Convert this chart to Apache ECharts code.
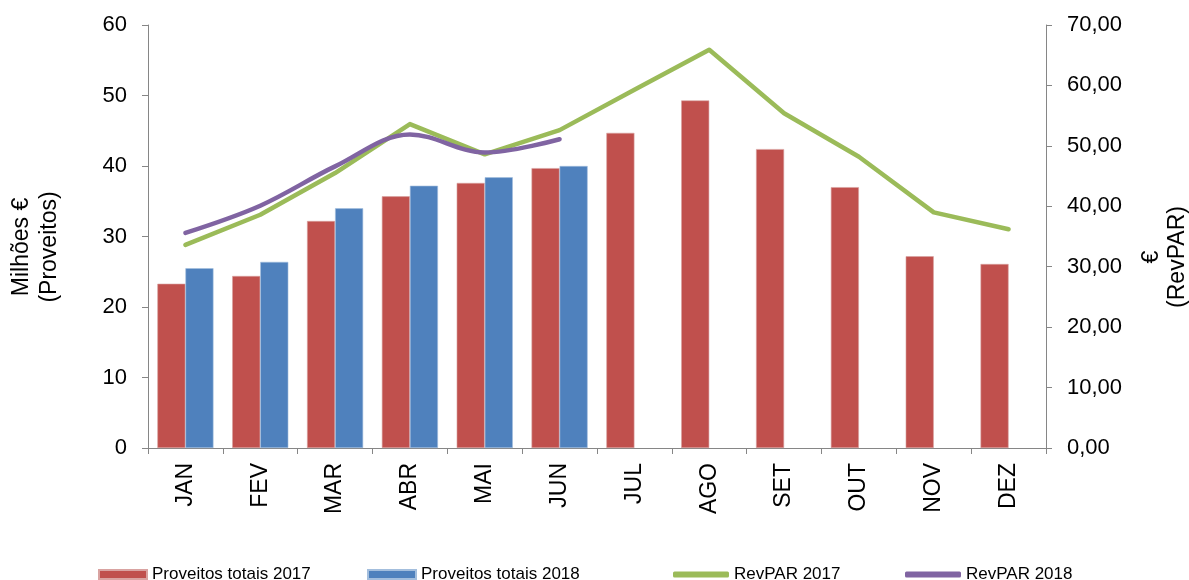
<!DOCTYPE html>
<html>
<head>
<meta charset="utf-8">
<script src="https://cdn.jsdelivr.net/npm/echarts@6/dist/echarts.min.js"></script>
<style>
html,body{margin:0;padding:0;background:#fff;}
#chart{width:1189px;height:580px;}
</style>
</head>
<body>
<div id="chart"></div>
<script>
const categories = ['JAN','FEV','MAR','ABR','MAI','JUN','JUL','AGO','SET','OUT','NOV','DEZ'];
const proveitos2017 = [23.3, 24.4, 32.2, 35.7, 37.6, 39.7, 44.7, 49.3, 42.4, 37.0, 27.2, 26.1];
const proveitos2018 = [25.5, 26.4, 34.0, 37.2, 38.4, 40.0, null, null, null, null, null, null];
const revpar2017 = [33.6, 38.6, 45.5, 53.6, 48.6, 52.6, 59.3, 65.9, 55.4, 48.2, 39.0, 36.2];
const revpar2018 = [35.6, 40.1, 46.6, 51.9, 48.9, 51.1, null, null, null, null, null, null];
const leftTicks = {min: 0, max: 60, interval: 10};
const rightTicks = {min: 0, max: 70, interval: 10};

const FONT = '"Liberation Sans", Arial, sans-serif';
const AXIS_COLOR = '#868686';
const chart = echarts.init(document.getElementById('chart'), null, {renderer: 'canvas'});

function legendFor(name, left, isLine) {
  return {
    data: [name],
    left: left,
    top: 566,
    itemWidth: isLine ? 56 : 48,
    itemHeight: isLine ? 6 : 9,
    icon: isLine ? 'roundRect' : 'rect',
    itemGap: 0,
    padding: 0,
    textStyle: {fontFamily: FONT, fontSize: 17, color: '#000', padding: [0, 0, 0, 0]}
  };
}

const option = {
  animation: false,
  backgroundColor: '#fff',
  textStyle: {fontFamily: FONT},
  grid: {left: 148, right: 143, top: 25, bottom: 132, containLabel: false},
  legend: [
    legendFor('Proveitos totais 2017', 98, false),
    legendFor('Proveitos totais 2018', 367, false),
    legendFor('RevPAR 2017', 673, true),
    legendFor('RevPAR 2018', 905, true)
  ],
  xAxis: {
    type: 'category',
    data: categories,
    boundaryGap: true,
    axisLine: {lineStyle: {color: AXIS_COLOR, width: 1}},
    axisTick: {show: true, length: 6, lineStyle: {color: AXIS_COLOR}},
    axisLabel: {rotate: 90, margin: 15, fontSize: 23, color: '#000', fontFamily: FONT, interval: 0}
  },
  yAxis: [
    {
      type: 'value',
      min: leftTicks.min, max: leftTicks.max, interval: leftTicks.interval,
      position: 'left',
      splitLine: {show: false},
      axisLine: {show: true, lineStyle: {color: AXIS_COLOR, width: 1}},
      axisTick: {show: true, length: 6, lineStyle: {color: AXIS_COLOR}},
      axisLabel: {margin: 21, fontSize: 22, color: '#000', fontFamily: FONT}
    },
    {
      type: 'value',
      min: rightTicks.min, max: rightTicks.max, interval: rightTicks.interval,
      position: 'right',
      splitLine: {show: false},
      axisLine: {show: true, lineStyle: {color: AXIS_COLOR, width: 1}},
      axisTick: {show: true, length: 6, lineStyle: {color: AXIS_COLOR}},
      axisLabel: {margin: 21, fontSize: 22, color: '#000', fontFamily: FONT,
        formatter: v => v.toFixed(2).replace('.', ',')}
    }
  ],
  graphic: [
    {
      type: 'text', x: 36, y: 247, rotation: Math.PI / 2,
      style: {text: 'Milhões €\n(Proveitos)', fontSize: 23, fontFamily: FONT, fill: '#000',
        align: 'center', verticalAlign: 'middle', lineHeight: 28}
    },
    {
      type: 'text', x: 1165, y: 257, rotation: Math.PI / 2,
      style: {text: '€\n(RevPAR)', fontSize: 23, fontFamily: FONT, fill: '#000',
        align: 'center', verticalAlign: 'middle', lineHeight: 26}
    }
  ],
  series: [
    {
      name: 'Proveitos totais 2017', type: 'bar', yAxisIndex: 0,
      data: proveitos2017, barGap: '0%', barCategoryGap: '25%',
      itemStyle: {color: '#C0504D', borderColor: '#D9A3A1', borderWidth: 0.6}
    },
    {
      name: 'Proveitos totais 2018', type: 'bar', yAxisIndex: 0,
      data: proveitos2018, barGap: '0%', barCategoryGap: '25%',
      itemStyle: {color: '#4F81BD', borderColor: '#A3BEDD', borderWidth: 0.6}
    },
    {
      name: 'RevPAR 2017', type: 'line', yAxisIndex: 1,
      data: revpar2017, showSymbol: false, symbol: 'none', smooth: false,
      lineStyle: {color: '#9BBB59', width: 4.5, cap: 'round', join: 'round'},
      itemStyle: {color: '#9BBB59'}
    },
    {
      name: 'RevPAR 2018', type: 'line', yAxisIndex: 1,
      data: revpar2018, showSymbol: false, symbol: 'none', smooth: 0.35,
      lineStyle: {color: '#8064A2', width: 4.5, cap: 'round', join: 'round'},
      itemStyle: {color: '#8064A2'}
    }
  ]
};
chart.setOption(option);
</script>
</body>
</html>
